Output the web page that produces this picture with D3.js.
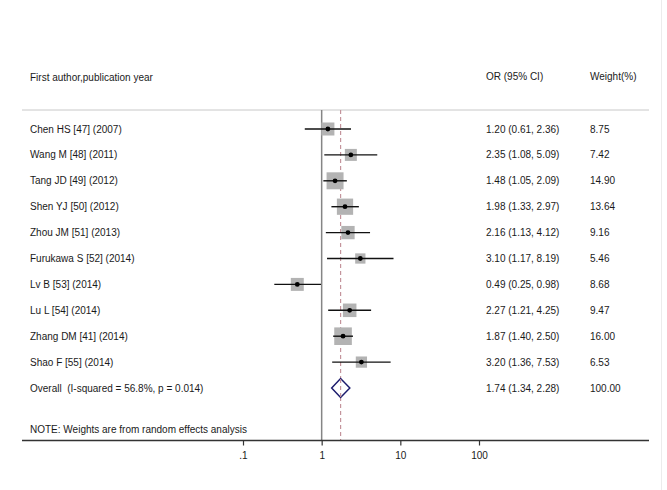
<!DOCTYPE html>
<html>
<head>
<meta charset="utf-8">
<script src="https://cdn.jsdelivr.net/npm/d3@7"></script>
<style>
  body { margin: 0; background: #fff; }
  svg text { font-family: "Liberation Sans", Arial, sans-serif; fill: #1a1a1a; white-space: pre; }
</style>
</head>
<body>
<div id="chart"></div>
<script>
let authors = ['Chen HS [47] (2007)', 'Wang M [48] (2011)', 'Tang JD [49] (2012)', 'Shen YJ [50] (2012)',
  'Zhou JM [51] (2013)', 'Furukawa S [52] (2014)', 'Lv B [53] (2014)', 'Lu L [54] (2014)',
  'Zhang DM [41] (2014)', 'Shao F [55] (2014)']
let or = [1.20, 2.35, 1.48, 1.98, 2.16, 3.10, 0.49, 2.27, 1.87, 3.20]
let lo = [0.61, 1.08, 1.05, 1.33, 1.13, 1.17, 0.25, 1.21, 1.40, 1.36]
let hi = [2.36, 5.09, 2.09, 2.97, 4.12, 8.19, 0.98, 4.25, 2.50, 7.53]
let weights = [8.75, 7.42, 14.90, 13.64, 9.16, 5.46, 8.68, 9.47, 16.00, 6.53]
let overall = { label: 'Overall  (I-squared = 56.8%, p = 0.014)', or: 1.74, lo: 1.34, hi: 2.28, weight: 100.00 }
let tickValues = [0.1, 1, 10, 100]
let tickLabels = ['.1', '1', '10', '100']

let width = 667, height = 490
let left = 22, right = 649
let top_line = 110, axis_y = 440.5
let first_row = 129, row_step = 25.9
let col_text = 30, col_or = 486, col_w = 590
let fs = 10

let svg = d3.select('#chart').append('svg')
  .attr('width', width)
  .attr('height', height)

let x = d3.scaleLog().domain([0.1, 100]).range([243, 479])
let y = (i) => first_row + i * row_step
let f2 = d3.format('.2f')
let ciText = (o, l, h) => f2(o) + ' (' + f2(l) + ', ' + f2(h) + ')'

// faint frame edge on the right
svg.append('line')
  .attr('x1', 661.5).attr('x2', 661.5).attr('y1', 0).attr('y2', height)
  .attr('stroke', '#ececec')

// headers
svg.append('text').attr('x', col_text).attr('y', 77).attr('dy', '0.35em')
  .attr('font-size', fs).text('First author,publication year')
svg.append('text').attr('x', col_or).attr('y', 76).attr('dy', '0.35em')
  .attr('font-size', fs).text('OR (95% CI)')
svg.append('text').attr('x', col_w).attr('y', 76).attr('dy', '0.35em')
  .attr('font-size', fs).text('Weight(%)')

svg.append('line')
  .attr('x1', left).attr('x2', right).attr('y1', top_line).attr('y2', top_line)
  .attr('stroke', '#c8c8c8').attr('stroke-width', 1)

// null line and overall line
svg.append('line')
  .attr('x1', x(1)).attr('x2', x(1)).attr('y1', top_line).attr('y2', axis_y)
  .attr('stroke', '#858585').attr('stroke-width', 1.5)

svg.append('line')
  .attr('x1', x(overall.or)).attr('x2', x(overall.or)).attr('y1', top_line).attr('y2', axis_y)
  .attr('stroke', '#c4949c').attr('stroke-width', 1.2)
  .attr('stroke-dasharray', '4,3')

// studies
let rows = svg.append('g').attr('class', 'rows')
  .selectAll('g')
  .data(authors)
  .enter()
  .append('g')

rows.append('rect')
  .attr('fill', '#b3b3b3')
  .attr('x', (d, i) => x(or[i]) - 2.2 * Math.sqrt(weights[i]))
  .attr('y', (d, i) => y(i) - 2.2 * Math.sqrt(weights[i]))
  .attr('width', (d, i) => 4.4 * Math.sqrt(weights[i]))
  .attr('height', (d, i) => 4.4 * Math.sqrt(weights[i]))

rows.append('line')
  .attr('x1', (d, i) => x(lo[i]))
  .attr('x2', (d, i) => x(hi[i]))
  .attr('y1', (d, i) => y(i))
  .attr('y2', (d, i) => y(i))
  .attr('stroke', '#111').attr('stroke-width', 1.4)

rows.append('circle')
  .attr('cx', (d, i) => x(or[i]))
  .attr('cy', (d, i) => y(i))
  .attr('r', 2.4)
  .attr('fill', '#000')

rows.append('text')
  .attr('x', col_text).attr('y', (d, i) => y(i)).attr('dy', '0.35em')
  .attr('font-size', fs).text(d => d)

rows.append('text')
  .attr('x', col_or).attr('y', (d, i) => y(i)).attr('dy', '0.35em')
  .attr('font-size', fs).text((d, i) => ciText(or[i], lo[i], hi[i]))

rows.append('text')
  .attr('x', col_w).attr('y', (d, i) => y(i)).attr('dy', '0.35em')
  .attr('font-size', fs).text((d, i) => f2(weights[i]))

// overall
let oy = y(authors.length)
svg.append('path')
  .attr('d', 'M' + x(overall.lo) + ',' + oy +
    'L' + x(overall.or) + ',' + (oy - 9.5) +
    'L' + x(overall.hi) + ',' + oy +
    'L' + x(overall.or) + ',' + (oy + 9.5) + 'Z')
  .attr('fill', '#fff')
  .attr('stroke', '#1c1c6e').attr('stroke-width', 1.5)

svg.append('line')
  .attr('x1', x(overall.or)).attr('x2', x(overall.or)).attr('y1', oy - 9).attr('y2', oy + 9)
  .attr('stroke', '#c4949c').attr('stroke-width', 1.2)
  .attr('stroke-dasharray', '4,3')

svg.append('text').attr('x', col_text).attr('y', oy).attr('dy', '0.35em')
  .attr('font-size', fs).text(overall.label)
svg.append('text').attr('x', col_or).attr('y', oy).attr('dy', '0.35em')
  .attr('font-size', fs).text(ciText(overall.or, overall.lo, overall.hi))
svg.append('text').attr('x', col_w).attr('y', oy).attr('dy', '0.35em')
  .attr('font-size', fs).text(f2(overall.weight))

svg.append('text').attr('x', col_text).attr('y', 429).attr('dy', '0.35em')
  .attr('font-size', fs).text('NOTE: Weights are from random effects analysis')

// axis
svg.append('line')
  .attr('x1', left).attr('x2', right).attr('y1', axis_y).attr('y2', axis_y)
  .attr('stroke', '#333').attr('stroke-width', 1.3)

let xAxis = d3.axisBottom(x)
  .tickValues(tickValues)
  .tickSize(5)
  .tickFormat((d, i) => tickLabels[i])

let gx = svg.append('g')
  .attr('transform', 'translate(0,' + axis_y + ')')
  .call(xAxis)
gx.select('.domain').remove()
gx.selectAll('.tick line').attr('stroke', '#333').attr('stroke-width', 1.2)
gx.selectAll('.tick text')
  .attr('y', 11)
  .attr('font-size', fs)
  .attr('font-family', '"Liberation Sans", Arial, sans-serif')
  .attr('fill', '#1a1a1a')
</script>
</body>
</html>
